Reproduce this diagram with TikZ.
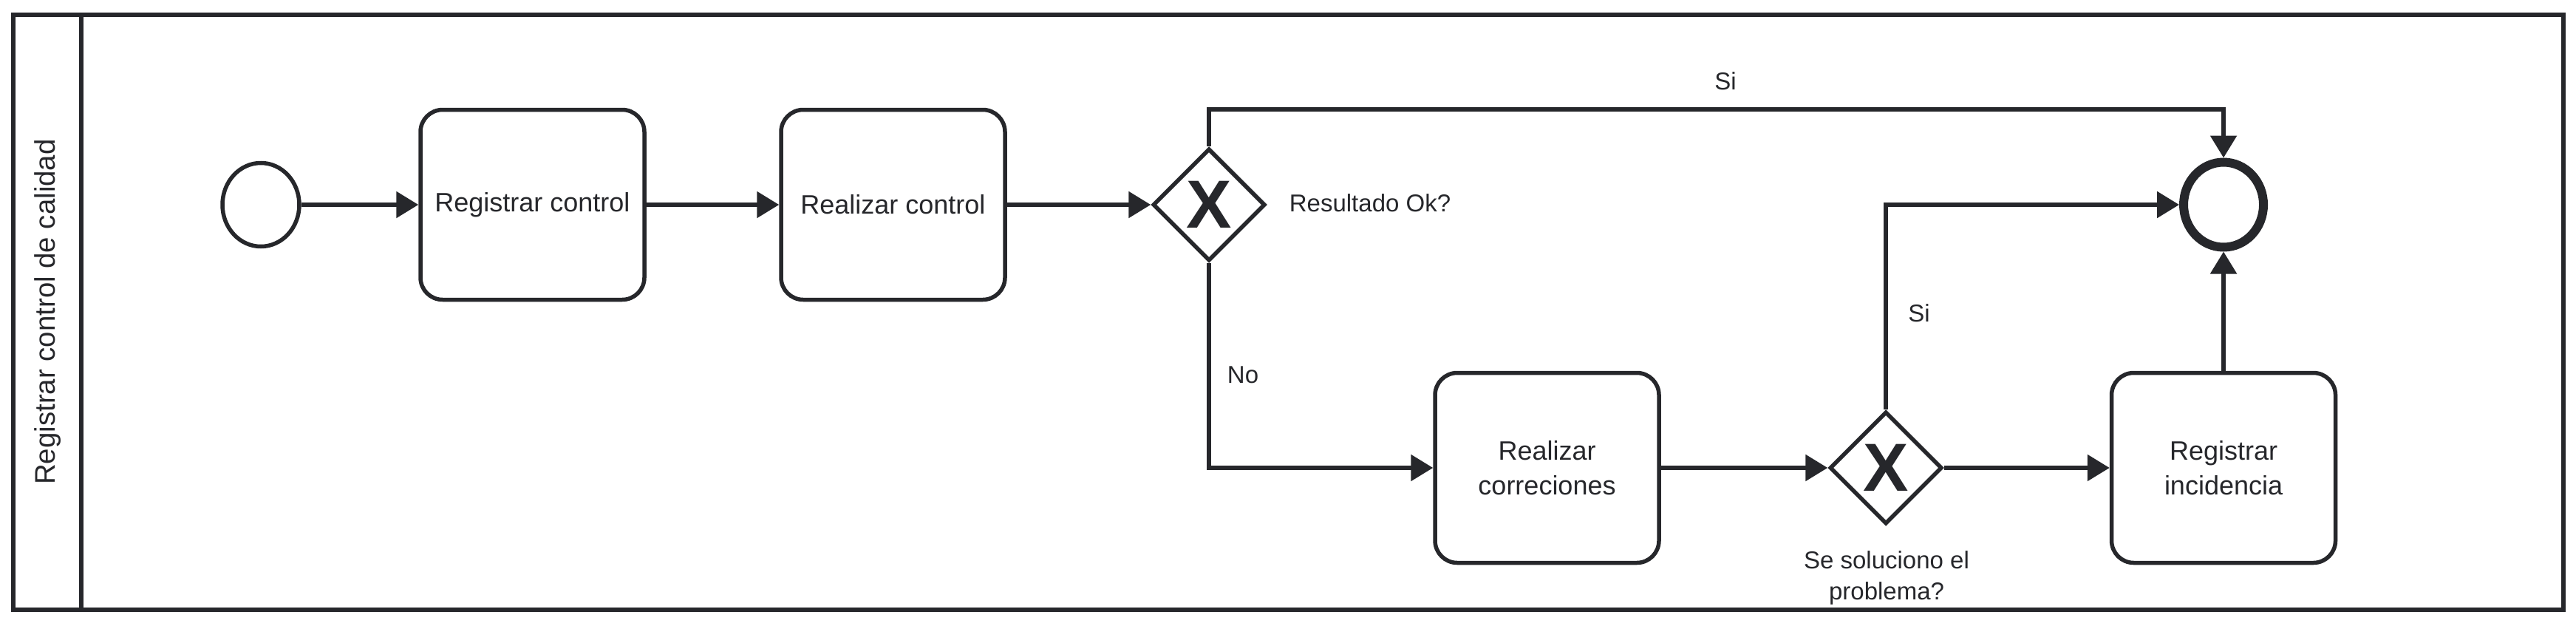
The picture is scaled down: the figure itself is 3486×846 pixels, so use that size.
\documentclass[tikz,border=0pt]{standalone}
\usepackage{fontspec}
\setmainfont{Liberation Sans}
\usetikzlibrary{shapes.geometric,arrows.meta}
\definecolor{ink}{HTML}{26272B}
\begin{document}
\begin{tikzpicture}[x=0.25pt,y=-0.25pt,
  line width=1.375pt, color=ink,
  task/.style={draw, rounded corners=7.5pt, minimum width=75.75pt, minimum height=64.25pt,
    inner sep=0pt, align=center, font=\fontsize{9pt}{11.75pt}\selectfont},
  gate/.style={draw, diamond, aspect=1, minimum width=38pt, minimum height=38pt,
    inner sep=0pt, font=\fontsize{23pt}{23pt}\selectfont\bfseries},
  startev/.style={draw, ellipse, minimum width=26pt, minimum height=28.25pt, inner sep=0pt},
  endev/.style={draw, ellipse, line width=3pt, minimum width=27pt, minimum height=28.75pt, inner sep=0pt},
  flow/.style={-{Triangle[length=7.5pt,width=8.75pt]}, line width=1.375pt},
  lbl/.style={font=\fontsize{8.25pt}{10.5pt}\selectfont, inner sep=0pt, align=center}
]
\fill[white] (0,0) rectangle (3486,846);
\useasboundingbox (0,0) rectangle (3486,846);
% pool / lane
\draw (18,20) rectangle (3469,825);
\draw (110,20) -- (110,825);
\node[rotate=90, inner sep=0pt, font=\fontsize{9.6pt}{11pt}\selectfont] (lane) at (65,422) {Registrar control de calidad};
% nodes
\node[startev] (start) at (353,277) {};
\node[task] (t1) at (720.5,277) {Registrar control};
\node[task] (t2) at (1208.5,277) {Realizar control};
\node[gate] (g1) at (1636,277) {X};
\node[endev] (end) at (3009,277) {};
\node[task] (t3) at (2093.5,633) {Realizar\\correciones};
\node[gate] (g2) at (2552,633) {X};
\node[task] (t4) at (3009,633) {Registrar\\incidencia};
% route helper
\coordinate (topy) at (0,148);
% flows
\draw[flow] (start.east) -- (t1.west);
\draw[flow] (t1.east) -- (t2.west);
\draw[flow] (t2.east) -- (g1.west);
\draw[flow] (g1.north) -- (g1.north |- topy) -| (end.north);
\draw[flow] (g1.south) |- (t3.west);
\draw[flow] (t3.east) -- (g2.west);
\draw[flow] (g2.north) |- (end.west);
\draw[flow] (g2.east) -- (t4.west);
\draw[flow] (t4.north) -- (end.south);
% labels
\node[lbl] (lsi1) at (2335,110) {Si};
\node[lbl] (lno) at (1682,507) {No};
\node[lbl] (lsi2) at (2597,424) {Si};
\node[lbl] (lres) at (1854,275) {Resultado Ok?};
\node[lbl] (lsol) at (2553,782) {Se soluciono el\\problema?};
\end{tikzpicture}
\end{document}
